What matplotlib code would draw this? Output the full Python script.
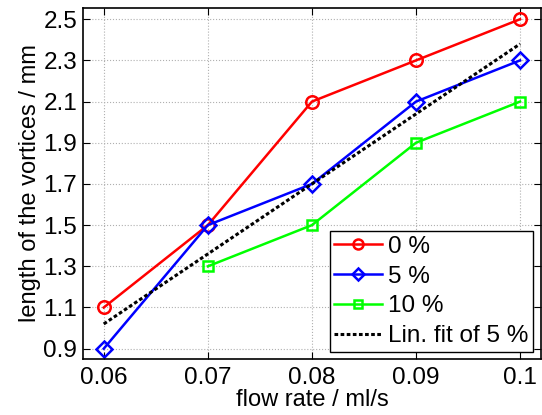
import numpy as np
import matplotlib
matplotlib.use("Agg")
import matplotlib.pyplot as plt

plt.rcParams['font.family'] = ['Liberation Sans', 'DejaVu Sans']

flow = [0.06, 0.07, 0.08, 0.09, 0.1]
len_0 = [1.1, 1.5, 2.1, 2.3, 2.5]
len_5 = [0.9, 1.5, 1.7, 2.1, 2.3]
flow_10 = [0.07, 0.08, 0.09, 0.1]
len_10 = [1.3, 1.5, 1.9, 2.1]

xticks = [0.06, 0.07, 0.08, 0.09, 0.1]
xticklabels = ["0.06", "0.07", "0.08", "0.09", "0.1"]
yticks = [0.9, 1.1, 1.3, 1.5, 1.7, 1.9, 2.1, 2.3, 2.5]

# linear fit of the 5 % series
p = np.polyfit(flow, len_5, 1)
fit = np.polyval(p, flow)

fig = plt.figure(figsize=(5.42, 4.15), dpi=100)
ax = fig.add_axes([0.153, 0.135, 0.845, 0.846])

ax.plot(flow, len_0, color="red", lw=1.8, marker="o", ms=9, mfc="none", mew=1.8, label="0 %")
ax.plot(flow, len_5, color="blue", lw=1.8, marker="D", ms=8, mfc="none", mew=1.8, label="5 %")
ax.plot(flow_10, len_10, color="lime", lw=1.8, marker="s", ms=7, mfc="none", mew=1.8, label="10 %")
ax.plot(flow, fit, color="black", lw=2.2, ls=(0, (1.2, 0.8)), label="Lin. fit of 5 %")

ax.set_xlim(0.058, 0.102)
ax.set_ylim(0.85, 2.555)
ax.set_xticks(xticks)
ax.set_xticklabels(xticklabels)
ax.set_yticks(yticks)
ax.tick_params(direction="in", top=True, right=True, labelsize=17.5, length=5, width=0.8)
ax.tick_params(axis="x", pad=6)
ax.tick_params(axis="y", pad=4)
ax.grid(True, color="#b0b0b0", ls=":", lw=0.8)
for s in ax.spines.values():
    s.set_linewidth(1.2)

ax.set_xlabel("flow rate / ml/s", fontsize=17, labelpad=0)
ax.set_ylabel("length of the vortices / mm", fontsize=17, labelpad=2)

leg = ax.legend(loc="lower right", bbox_to_anchor=(0.983, 0.02), fontsize=17.5, frameon=True,
                fancybox=False, edgecolor="black", framealpha=1, handlelength=1.95,
                handletextpad=0.25, borderpad=0.2, labelspacing=0.32, borderaxespad=0,
                markerscale=0.8)
leg.get_frame().set_linewidth(1.0)

fig.savefig("out.png", dpi=100)
